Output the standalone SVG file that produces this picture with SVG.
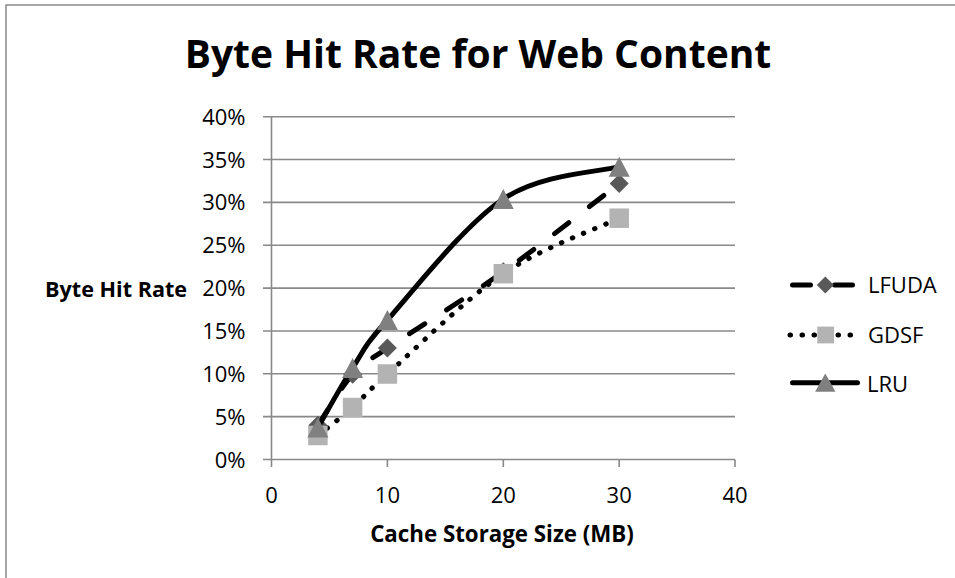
<svg xmlns="http://www.w3.org/2000/svg" width="955" height="578" viewBox="0 0 955 578">
  <style>
    .frame { fill: #ffffff; stroke: #898989; stroke-width: 1.5; }
    .grid { stroke: #898989; stroke-width: 1.6; fill: none; }
    .lbl { font-family: "Open Sans", "Liberation Sans", sans-serif; font-size: 22px; fill: #000000; }
    .ylbl { text-anchor: end; }
    .xlbl { text-anchor: middle; }
    .bold { font-family: "Open Sans", "Liberation Sans", sans-serif; font-weight: bold; fill: #000000; }
    .series { fill: none; stroke: #000000; stroke-width: 5; stroke-linecap: round; stroke-linejoin: round; }
    .dash { stroke-dasharray: 18 26; }
    .dot { stroke-dasharray: 0.5 11.5; stroke-width: 5; }
    .m-diamond { fill: #595959; }
    .m-square { fill: #b3b3b3; }
    .m-tri { fill: #808080; }
  </style>
  <defs>
    <path id="diamond" class="m-diamond" d="M0 -9.5 L9.5 0 L0 9.5 L-9.5 0 Z"/>
    <rect id="square" class="m-square" x="-9.75" y="-9.75" width="19.5" height="19.5"/>
    <path id="tri" class="m-tri" d="M0 -10 L10.5 10 L-10.5 10 Z"/>
  </defs>

  <!-- chart frame -->
  <rect id="frame" class="frame" x="6" y="5" width="960" height="590"/>

  <!-- title -->
  <g id="title">
    <text class="bold" x="478" y="67.5" font-size="39" text-anchor="middle">Byte Hit Rate for Web Content</text>
  </g>

  <!-- gridlines, axes and ticks -->
  <g id="axes" class="grid">
    <path d="M263 116.7 H735 M263 159.55 H735 M263 202.4 H735 M263 245.25 H735 M263 288.1 H735 M263 330.95 H735 M263 373.8 H735 M263 416.65 H735"/>
    <path d="M263 459.5 H735"/>
    <path d="M271.5 116.7 V467"/>
    <path d="M387.4 459.5 V467 M503.3 459.5 V467 M619.2 459.5 V467 M735 459.5 V467"/>
  </g>

  <!-- value axis labels -->
  <g id="y-labels" class="lbl ylbl">
    <text x="245.5" y="124.7">40%</text>
    <text x="245.5" y="167.5">35%</text>
    <text x="245.5" y="210.4">30%</text>
    <text x="245.5" y="253.2">25%</text>
    <text x="245.5" y="296.1">20%</text>
    <text x="245.5" y="338.9">15%</text>
    <text x="245.5" y="381.8">10%</text>
    <text x="245.5" y="424.6">5%</text>
    <text x="245.5" y="467.5">0%</text>
  </g>

  <!-- category axis labels -->
  <g id="x-labels" class="lbl xlbl">
    <text x="271.5" y="502.5">0</text>
    <text x="387.4" y="502.5">10</text>
    <text x="503.3" y="502.5">20</text>
    <text x="619.2" y="502.5">30</text>
    <text x="735" y="502.5">40</text>
  </g>

  <!-- axis titles -->
  <g id="axis-titles">
    <text class="bold" x="45" y="296.7" font-size="21.6">Byte Hit Rate</text>
    <text class="bold" x="502" y="541.5" font-size="22.3" text-anchor="middle">Cache Storage Size (MB)</text>
  </g>

  <!-- data series (smoothed) -->
  <g id="series">
    <g id="series-lfuda">
      <path class="series dash" d="M317.9 425.2 C323.7 416.7 341.0 387.05 352.6 374.2 C364.2 361.35 362.3 365.2 387.4 348.1 C412.5 331.0 464.7 299.2 503.3 271.8 C541.9 244.4 599.9 198.2 619.2 183.5"/>
      <use href="#diamond" x="317.9" y="425.2"/>
      <use href="#diamond" x="352.6" y="374.2"/>
      <use href="#diamond" x="387.4" y="348.1"/>
      <use href="#diamond" x="503.3" y="271.8"/>
      <use href="#diamond" x="619.2" y="183.5"/>
    </g>
    <g id="series-gdsf">
      <path class="series dot" d="M317.9 435.5 C323.7 430.8 341.0 417.75 352.6 407.5 C364.2 397.25 362.3 396.3 387.4 374.0 C412.5 351.7 464.7 299.7 503.3 273.7 C541.9 247.7 599.9 227.45 619.2 218.2"/>
      <use href="#square" x="317.9" y="435.5"/>
      <use href="#square" x="352.6" y="407.5"/>
      <use href="#square" x="387.4" y="374.0"/>
      <use href="#square" x="503.3" y="273.7"/>
      <use href="#square" x="619.2" y="218.2"/>
    </g>
    <g id="series-lru">
      <path class="series" d="M317.9 427.5 C323.7 417.6 341.0 385.9 352.6 368.0 C364.2 350.1 362.3 348.2 387.4 320.0 C412.5 291.8 464.7 224.6 503.3 199.0 C541.9 173.4 599.9 172.1 619.2 166.7"/>
      <use href="#tri" x="317.9" y="427.5"/>
      <use href="#tri" x="352.6" y="368.0"/>
      <use href="#tri" x="387.4" y="320.0"/>
      <use href="#tri" x="503.3" y="199.0"/>
      <use href="#tri" x="619.2" y="166.7"/>
    </g>
  </g>

  <!-- legend -->
  <g id="legend">
    <g id="legend-lfuda">
      <path class="series" d="M792.5 285 H810.5 M834.5 285 H852.5"/>
      <path class="m-diamond" d="M825.3 276.5 L833.8 285 L825.3 293.5 L816.8 285 Z"/>
      <text class="lbl" x="868" y="293.3">LFUDA</text>
    </g>
    <g id="legend-gdsf">
      <path class="series dot" d="M790 335 H856"/>
      <rect class="m-square" x="817.3" y="326.6" width="16.8" height="16.8"/>
      <text class="lbl" x="868" y="343.3">GDSF</text>
    </g>
    <g id="legend-lru">
      <path class="series" d="M792.5 382.7 H857.5"/>
      <path class="m-tri" d="M825.3 373.5 L835.5 391.7 L815.1 391.7 Z"/>
      <text class="lbl" x="867" y="391.7">LRU</text>
    </g>
  </g>
</svg>
